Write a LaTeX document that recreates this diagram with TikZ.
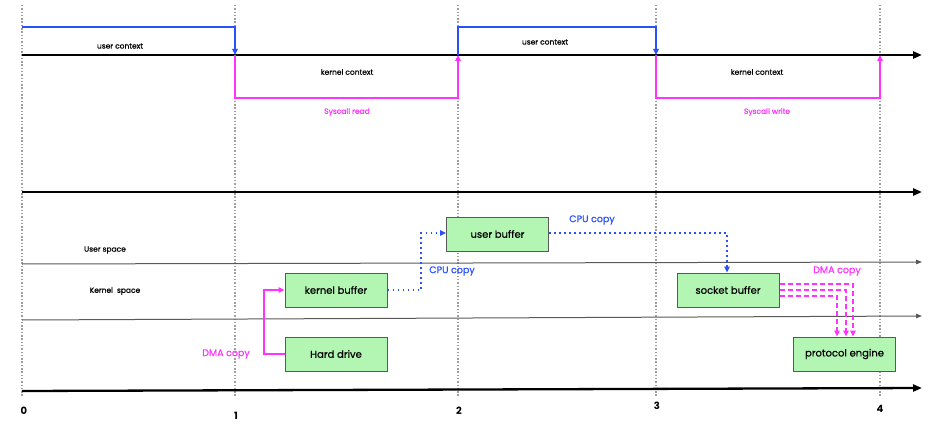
\documentclass[tikz,border=0pt]{standalone}
\usepackage{fontspec}
\setmainfont{Poppins}
\newfontfamily\medfont{Poppins}[FakeBold=0.6]
\usetikzlibrary{arrows.meta}
\definecolor{pk}{RGB}{255,51,255}
\definecolor{bl}{RGB}{40,80,255}
\definecolor{bx}{RGB}{179,245,179}
\begin{document}
\begin{tikzpicture}[x=1pt,y=-1pt,
  vline/.style={gray!75,line width=1.2pt,dash pattern=on 1.5pt off 1.8pt},
  axis/.style={line width=2.3pt,-{Triangle[length=9pt,width=7pt]}},
  thinaxis/.style={line width=1pt,gray!70!black,-{Triangle[length=6pt,width=4.5pt]}},
  small/.style={font=\medfont\fontsize{7.5}{8}\selectfont},
  buf/.style={draw=gray!70!black,fill=bx,line width=1pt,minimum width=102pt,minimum height=34pt,inner sep=0pt,font=\medfont\fontsize{10}{11}\selectfont},
  bluel/.style={bl,line width=1.5pt},
  pinkl/.style={pk,line width=1.5pt},
  blued/.style={bl,line width=1.6pt,dash pattern=on 1.6pt off 3.4pt},
  pinkd/.style={pk,line width=1.5pt,dash pattern=on 5pt off 3pt},
  tip/.style={-{Triangle[length=6pt,width=5.5pt]}},
  lab/.style={font=\medfont\fontsize{9.5}{10}\selectfont},
  tick/.style={font=\bfseries\fontsize{10}{11}\selectfont}]
\useasboundingbox (0,0) rectangle (932,436);
% vertical dotted guides
\foreach \x in {22,235,458,656,880} \draw[vline] (\x,5) -- (\x,396);
% axes
\coordinate (a0) at (22,55); \coordinate (a1) at (922,55);
\draw[axis] (a0) -- (a1);
\coordinate (b0) at (22,192); \coordinate (b1) at (922,192);
\draw[axis] (b0) -- (b1);
\coordinate (c0) at (22,264); \coordinate (c1) at (922,262);
\draw[thinaxis] (c0) -- (c1);
\coordinate (d0) at (22,320); \coordinate (d1) at (922,316);
\draw[thinaxis] (d0) -- (d1);
\coordinate (e0) at (22,391); \coordinate (e1) at (922,388);
\draw[axis] (e0) -- (e1);
% context lines
\draw[bluel,tip] (22,27) -- (235,27) -- (235,55);
\draw[pinkl,tip] (235,55) -- (235,98) -- (458,98) -- (458,55);
\draw[bluel,tip] (458,55) -- (458,27) -- (656,27) -- (656,55);
\draw[pinkl,tip] (656,55) -- (656,98) -- (880,98) -- (880,55);
\node[small] (uc1) at (120,46) {user context};
\node[small] (kc1) at (347,72) {kernel context};
\node[small,text=pk] (sr) at (347,112) {Syscall read};
\node[small] (uc2) at (545,42) {user context};
\node[small] (kc2) at (757,72) {kernel context};
\node[small,text=pk] (sw) at (767,112) {Syscall write};
\node[small] (us) at (105,250) {User space};
\node[small] (ks) at (115,291) {Kernel\ \ space};
% ticks
\node[tick] (t0) at (24,411) {0};
\node[tick] (t1) at (236,416) {1};
\node[tick] (t2) at (459,411) {2};
\node[tick] (t3) at (657,406) {3};
\node[tick] (t4) at (880,409) {4};
% boxes
\node[buf] (ub) at (497.5,234) {user buffer};
\node[buf] (kb) at (336,290) {kernel buffer};
\node[buf] (hd) at (336,354) {Hard drive};
\node[buf] (sb) at (728,290) {socket buffer};
\node[buf] (pe) at (844.5,354) {protocol engine};
% DMA copy in
\draw[pinkl,tip] (hd.west) -- (264,354) -- (264,290) -- (kb.west);
\node[lab,text=pk] (dma1) at (226,354) {DMA copy};
% CPU copy 1
\draw[blued,tip] (kb.east) -- (421,290) -- (421,233) -- (ub.west |- 0,233);
\node[lab,text=bl] (cpu1) at (452,271) {CPU copy};
% CPU copy 2
\draw[blued,tip] (ub.east |- 0,233) -- (727,233) -- (sb.north -| 727,0);
\node[lab,text=bl] (cpu2) at (592,220) {CPU copy};
% DMA copy out
\draw[pinkd,tip] (sb.east |- 0,284) -- (853,284) -- (pe.north -| 853,0);
\draw[pinkd,tip] (sb.east |- 0,290) -- (846,290) -- (pe.north -| 846,0);
\draw[pinkd,tip] (sb.east |- 0,296) -- (837,296) -- (pe.north -| 837,0);
\node[lab,text=pk] (dma2) at (837,271) {DMA copy};
\end{tikzpicture}
\end{document}
